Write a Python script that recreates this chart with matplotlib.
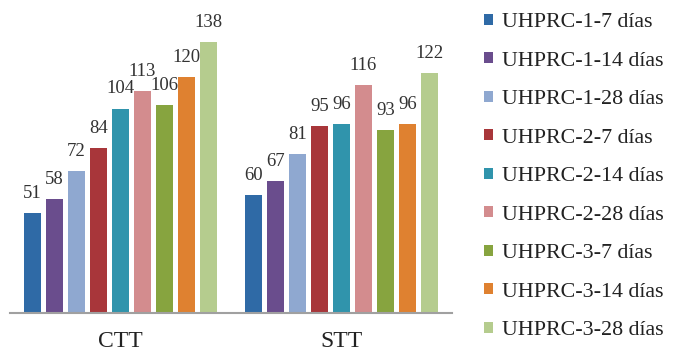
import matplotlib
matplotlib.use("Agg")
import matplotlib.pyplot as plt
import numpy as np

categories = ["CTT", "STT"]
series_labels = [
    "UHPRC-1-7 días", "UHPRC-1-14 días", "UHPRC-1-28 días",
    "UHPRC-2-7 días", "UHPRC-2-14 días", "UHPRC-2-28 días",
    "UHPRC-3-7 días", "UHPRC-3-14 días", "UHPRC-3-28 días",
]
ctt_values = [51, 58, 72, 84, 104, 113, 106, 120, 138]
stt_values = [60, 67, 81, 95, 96, 116, 93, 96, 122]
colors = ["#2F6AA6", "#6A4D8D", "#8FA8D0", "#A8363A", "#3094AC",
          "#D38C8E", "#87A43F", "#DF8130", "#B5CC8E"]

plt.rcParams["font.family"] = ["Liberation Serif", "DejaVu Serif"]

fig = plt.figure(figsize=(6.74, 3.51), dpi=100)
ax = fig.add_axes([10 / 674, 38 / 351, 442 / 674, 285 / 351])

x = np.arange(len(categories))
pitch = 0.0995
width = 0.081
handles = []
for i, (lab, col) in enumerate(zip(series_labels, colors)):
    vals = [ctt_values[i], stt_values[i]]
    bars = ax.bar(x + (i - 4) * pitch, vals, width, color=col, label=lab)
    handles.append(bars)
    for b, v in zip(bars, vals):
        ax.annotate(str(v), (b.get_x() + b.get_width() / 2, v),
                    xytext=(0, 8), textcoords="offset points",
                    ha="center", va="bottom", fontsize=13.5, color="#333333",
                    annotation_clip=False)

ax.set_xlim(-0.5, 1.5)
ax.set_ylim(0, 145)
ax.set_yticks([])
ax.set_xticks(x)
ax.set_xticklabels(categories, fontsize=17, color="#222222")
ax.tick_params(axis="x", length=0, pad=13)
for s in ["top", "right", "left"]:
    ax.spines[s].set_visible(False)
ax.spines["bottom"].set_color("#A0A0A0")
ax.spines["bottom"].set_linewidth(1.5)

leg = fig.legend(handles=handles, labels=series_labels, loc="upper left",
                 bbox_to_anchor=(484 / 674, 1 - 13 / 351), frameon=False,
                 fontsize=15.8, handlelength=0.4, handleheight=0.4,
                 handletextpad=0.42, labelspacing=0.89, borderpad=0,
                 borderaxespad=0)
for t in leg.get_texts():
    t.set_color("#222222")

fig.savefig("out.png", dpi=100)
